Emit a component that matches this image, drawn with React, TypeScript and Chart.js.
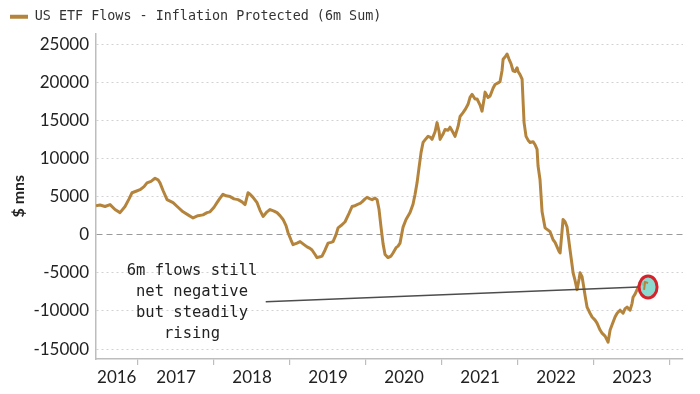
import React, { useEffect, useRef } from "react";
import { Chart, registerables } from "chart.js";

Chart.register(...registerables);

const SERIES_LABEL = "US ETF Flows - Inflation Protected (6m Sum)";
const SERIES_COLOR = "#b5843c";

// decimal-year dates and 6m summed flows ($ mns)
const DATES = [
  2016.447, 2016.5, 2016.566, 2016.632, 2016.697, 2016.763, 2016.829, 2016.882, 2016.921, 2016.974,
  2017.026, 2017.079, 2017.118, 2017.171, 2017.224, 2017.263, 2017.289, 2017.329, 2017.382, 2017.421,
  2017.461, 2017.526, 2017.592, 2017.658, 2017.724, 2017.789, 2017.855, 2017.908, 2017.947, 2018.0,
  2018.039, 2018.079, 2018.118, 2018.158, 2018.211, 2018.263, 2018.316, 2018.368, 2018.408, 2018.447,
  2018.474, 2018.513, 2018.566, 2018.605, 2018.645, 2018.697, 2018.737, 2018.789, 2018.829, 2018.868,
  2018.908, 2018.947, 2018.974, 2019.013, 2019.039, 2019.092, 2019.132, 2019.184, 2019.224, 2019.263,
  2019.289, 2019.329, 2019.355, 2019.395, 2019.421, 2019.461, 2019.5, 2019.539, 2019.566, 2019.605,
  2019.632, 2019.684, 2019.724, 2019.776, 2019.816, 2019.855, 2019.882, 2019.921, 2019.947, 2019.987,
  2020.013, 2020.053, 2020.079, 2020.118, 2020.145, 2020.171, 2020.197, 2020.224, 2020.25, 2020.289,
  2020.329, 2020.355, 2020.395, 2020.421, 2020.447, 2020.487, 2020.526, 2020.579, 2020.618, 2020.645,
  2020.671, 2020.697, 2020.724, 2020.75, 2020.789, 2020.816, 2020.842, 2020.868, 2020.908, 2020.934,
  2020.961, 2020.974, 2021.013, 2021.039, 2021.079, 2021.105, 2021.145, 2021.171, 2021.211, 2021.237,
  2021.276, 2021.303, 2021.342, 2021.368, 2021.395, 2021.434, 2021.461, 2021.5, 2021.526, 2021.553,
  2021.566, 2021.605, 2021.632, 2021.671, 2021.697, 2021.737, 2021.763, 2021.789, 2021.803, 2021.829,
  2021.855, 2021.882, 2021.908, 2021.934, 2021.961, 2021.987, 2022.0, 2022.026, 2022.053, 2022.066,
  2022.079, 2022.105, 2022.132, 2022.158, 2022.197, 2022.224, 2022.25, 2022.263, 2022.289, 2022.316,
  2022.355, 2022.395, 2022.421, 2022.461, 2022.487, 2022.513, 2022.539, 2022.553, 2022.579, 2022.592,
  2022.618, 2022.645, 2022.684, 2022.711, 2022.724, 2022.75, 2022.776, 2022.803, 2022.816, 2022.842,
  2022.855, 2022.882, 2022.908, 2022.947, 2022.974, 2023.013, 2023.039, 2023.079, 2023.105, 2023.145,
  2023.171, 2023.184, 2023.211, 2023.237, 2023.276, 2023.303, 2023.342, 2023.382, 2023.408, 2023.434,
  2023.474, 2023.5, 2023.513, 2023.539, 2023.566, 2023.605, 2023.645, 2023.671,
];

const VALUES = [
  3800, 3900, 3700, 3950, 3300, 2900, 3700, 4700, 5500, 5700,
  5900, 6300, 6800, 7000, 7400, 7200, 6800, 5800, 4600, 4400,
  4200, 3600, 3000, 2600, 2200, 2500, 2600, 2900, 3000, 3600,
  4200, 4800, 5300, 5100, 5000, 4700, 4600, 4300, 3950, 5500,
  5300, 4900, 4200, 3200, 2400, 3000, 3300, 3100, 2900, 2500,
  2000, 1200, 260, -700, -1300, -1100, -900, -1300, -1600, -1800,
  -2000, -2600, -3000, -2900, -2800, -2000, -1100, -1000, -900, 0,
  900, 1300, 1700, 2800, 3700, 3800, 3950, 4100, 4300, 4700,
  4900, 4700, 4600, 4800, 4600, 3300, 1000, -1200, -2600, -3000,
  -2800, -2400, -1700, -1500, -1100, 1000, 2000, 2900, 4000, 5300,
  6800, 8800, 10800, 12100, 12600, 12900, 12800, 12500, 13500, 14700,
  13500, 12500, 13200, 13800, 13700, 14100, 13400, 12900, 14200, 15500,
  16000, 16400, 17100, 18000, 18400, 17800, 17800, 17000, 16200, 17800,
  18700, 18000, 18200, 19200, 19700, 19900, 20100, 21500, 23000, 23300,
  23700, 23000, 22400, 21500, 21400, 21900, 21400, 21000, 20400, 17500,
  14700, 12900, 12400, 12100, 12200, 11800, 11200, 9000, 7200, 3000,
  900, 600, 400, -660, -1000, -1600, -2200, -2400, 500, 2000,
  1700, 1000, -2000, -4000, -5000, -6000, -7200, -5800, -5000, -5500,
  -6300, -8000, -9500, -10300, -10800, -11200, -11600, -12500, -12900, -13300,
  -13800, -14100, -12500, -11800, -10800, -10300, -9900, -10300, -9700, -9500,
  -9900, -9000, -8200, -7800, -7200, -6300, -6500, -6200,
];

const YEAR_TICKS = [2017, 2018, 2019, 2020, 2021, 2022, 2023, 2024];
const YEAR_LABELS = ["2016", "2017", "2018", "2019", "2020", "2021", "2022", "2023"];
const YEAR_LABEL_POS = [2016.72, 2017.5, 2018.5, 2019.5, 2020.5, 2021.5, 2022.5, 2023.5];
const Y_TICKS = [-15000, -10000, -5000, 0, 5000, 10000, 15000, 20000, 25000];
const X_MIN = 2016.447;
const X_MAX = 2024.17;
const Y_MIN = -16300;
const Y_MAX = 26400;

const NOTE_LINES = ["6m flows still", "net negative", "but steadily", "rising"];
const NOTE_TEXT_AT = [2017.71, -4700];
const NOTE_LINE_FROM = [2018.68, -8800];

const notePlugin = {
  id: "noteAnnotation",
  afterDatasetsDraw(chart: any) {
    const { ctx, scales } = chart;
    const x = scales.x;
    const y = scales.y;
    const lx = x.getPixelForValue(DATES[DATES.length - 1]);
    const ly = y.getPixelForValue(VALUES[VALUES.length - 1]);
    const cx = lx + 3;
    const cy = ly + 5;
    ctx.save();
    // connector line
    ctx.strokeStyle = "#4d4d4d";
    ctx.lineWidth = 1.5;
    ctx.beginPath();
    ctx.moveTo(x.getPixelForValue(NOTE_LINE_FROM[0]), y.getPixelForValue(NOTE_LINE_FROM[1]));
    ctx.lineTo(cx - 9, cy);
    ctx.stroke();
    // highlight circle
    ctx.beginPath();
    ctx.ellipse(cx, cy, 9, 11, 0, 0, Math.PI * 2);
    ctx.fillStyle = "rgba(120, 210, 200, 0.85)";
    ctx.fill();
    ctx.lineWidth = 3;
    ctx.strokeStyle = "#d5232b";
    ctx.stroke();
    // small end mark
    ctx.strokeStyle = SERIES_COLOR;
    ctx.lineWidth = 2;
    ctx.beginPath();
    ctx.moveTo(lx - 1, ly + 8);
    ctx.lineTo(lx, ly);
    ctx.lineTo(lx + 3, ly + 1);
    ctx.stroke();
    // note text
    ctx.fillStyle = "#222";
    ctx.font = "15.5px 'DejaVu Sans Mono'";
    ctx.textAlign = "center";
    ctx.textBaseline = "middle";
    const tx = x.getPixelForValue(NOTE_TEXT_AT[0]);
    const ty = y.getPixelForValue(NOTE_TEXT_AT[1]);
    NOTE_LINES.forEach((line, i) => ctx.fillText(line, tx, ty + i * 21));
    ctx.restore();
  },
};

export default function App() {
  const canvasRef = useRef<HTMLCanvasElement | null>(null);

  useEffect(() => {
    if (!canvasRef.current) return;
    const chart = new Chart(canvasRef.current, {
      type: "line",
      data: {
        datasets: [
          {
            label: SERIES_LABEL,
            data: DATES.map((d, i) => ({ x: d, y: VALUES[i] })),
            borderColor: SERIES_COLOR,
            backgroundColor: SERIES_COLOR,
            borderWidth: 3,
            pointRadius: 0,
            tension: 0,
            borderJoinStyle: "round",
            fill: false,
          },
        ],
      },
      options: {
        responsive: false,
        animation: false,
        devicePixelRatio: 1,
        layout: { padding: { left: 0, right: 17, top: 0, bottom: 0 } },
        plugins: {
          tooltip: { enabled: false },
          legend: {
            position: "top",
            align: "start",
            labels: {
              boxWidth: 18,
              boxHeight: 4,
              padding: 10,
              color: "#333",
              font: { family: "'DejaVu Sans Mono'", size: 13.4 },
              generateLabels: (c: any) =>
                Chart.defaults.plugins.legend.labels
                  .generateLabels(c)
                  .map((l: any) => ({ ...l, lineWidth: 0, fillStyle: SERIES_COLOR })),
            },
          },
        },
        scales: {
          x: {
            type: "linear",
            min: X_MIN,
            max: X_MAX,
            afterBuildTicks: (scale: any) => {
              const vals = [...YEAR_TICKS, ...YEAR_LABEL_POS].sort((a, b) => a - b);
              scale.ticks = vals.map((v) => ({ value: v }));
            },
            afterFit: (scale: any) => {
              scale.height = 35;
            },
            ticks: {
              autoSkip: false,
              maxRotation: 0,
              minRotation: 0,
              padding: 2,
              color: "#222",
              font: { family: "Lato", size: 17 },
              callback: (value: any) => {
                const i = YEAR_LABEL_POS.indexOf(Number(value));
                return i >= 0 ? YEAR_LABELS[i] : "";
              },
            },
            grid: {
              drawOnChartArea: false,
              drawTicks: true,
              tickLength: 6,
              lineWidth: 1.2,
              color: (ctx: any) =>
                ctx.tick && YEAR_TICKS.includes(ctx.tick.value) ? "#bdbdbd" : "rgba(0,0,0,0)",
            },
            border: { display: true, color: "#bdbdbd", width: 1.5 },
          },
          y: {
            type: "linear",
            min: Y_MIN,
            max: Y_MAX,
            afterBuildTicks: (scale: any) => {
              scale.ticks = Y_TICKS.map((v) => ({ value: v }));
            },
            afterFit: (scale: any) => {
              scale.width = 96;
            },
            title: {
              display: true,
              text: "$ mns",
              color: "#222",
              font: { family: "Lato", size: 16, weight: "bold" },
              padding: { top: 9, bottom: 0 },
            },
            ticks: {
              padding: 7,
              color: "#222",
              font: { family: "Lato", size: 17 },
              callback: (value: any) => String(value),
            },
            grid: {
              drawTicks: false,
              lineWidth: 1,
              color: (ctx: any) =>
                ctx.tick && ctx.tick.value === 0 ? "#9a9a9a" : "#d2d2d2",
            },
            border: {
              display: true,
              color: "#bdbdbd",
              width: 1.5,
              dash: (ctx: any) =>
                ctx.tick ? (ctx.tick.value === 0 ? [6, 4] : [2, 3]) : [],
            },
          },
        },
      },
      plugins: [notePlugin],
    } as any);
    return () => chart.destroy();
  }, []);

  return (
    <div style={{ position: "fixed", left: 0, top: 0, width: 700, height: 394, background: "#fff" }}>
      <canvas ref={canvasRef} width={700} height={394} style={{ width: 700, height: 394 }} />
    </div>
  );
}
